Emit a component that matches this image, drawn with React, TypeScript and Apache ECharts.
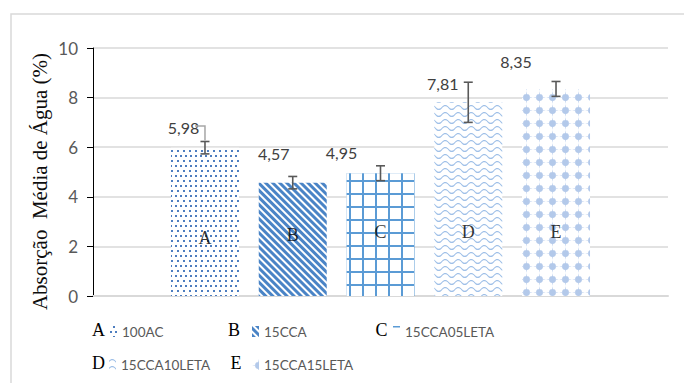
import React, { useEffect, useRef } from 'react';
import * as echarts from 'echarts';

// ---- data ----
const letters = ['A', 'B', 'C', 'D', 'E'];
const seriesNames = ['100AC', '15CCA', '15CCA05LETA', '15CCA10LETA', '15CCA15LETA'];
const means = [5.98, 4.57, 4.95, 7.81, 8.35];
const errors = [0.25, 0.25, 0.3, 0.81, 0.3];
const letterLevels = [2.35, 2.46, 2.6, 2.6, 2.6];
const yAxisTitle = 'Absorção  Média de Água (%)';
const yMin = 0;
const yMax = 10;
const yStep = 2;

// ---- styling ----
const SANS = 'Lato, "Open Sans", sans-serif';
const SERIF = '"Liberation Serif", "Times New Roman", serif';
const labelOffsets = [[-21.5, -6.7], [-19, -16], [-39, -8], [-25.5, -6], [-40, -14]];
const legendSpots = [
  { left: 110, top: 324.5, lx: 98.5, ly: 330 },
  { left: 252, top: 324.5, lx: 234, ly: 330 },
  { left: 393, top: 324.5, lx: 381.5, ly: 330 },
  { left: 109, top: 357.5, lx: 98.5, ly: 363 },
  { left: 252, top: 357.5, lx: 236, ly: 363 },
];

const wavePath =
  'path://M0,2.5 C2,0 4.5,0 6.5,2.5 C8.5,5 11,5 13,2.5 L13,3.8 C11,6.3 8.5,6.3 6.5,3.8 C4.5,1.3 2,1.3 0,3.8 Z';
const dotPath =
  'path://M2.8,6 A3.2,3.2 0 1 1 9.2,6 A3.2,3.2 0 1 1 2.8,6 Z M0,6 L6,5.2 L12,6 L6,6.8 Z M6,0 L6.8,6 L6,12 L5.2,6 Z';
const dashIcon = 'path://M0,0 H7 V1.6 H0 Z M3.5,11 H3.51 V11.01 H3.5 Z';

const barStyles: any[] = [
  {
    color: '#ffffff',
    decal: {
      symbol: 'rect', symbolSize: 1, color: '#4d7dbf',
      dashArrayX: [[1.5, 3], [0, 2.25, 1.5, 0.75]], dashArrayY: [1.5, 2.5],
    },
  },
  {
    color: '#ffffff',
    decal: {
      symbol: 'rect', symbolSize: 1, color: '#4a84c6',
      dashArrayX: [1, 0], dashArrayY: [2.2, 1.5], rotation: Math.PI / 4,
    },
  },
  {
    color: '#5b9bd5',
    decal: {
      symbol: 'rect', symbolSize: 1, color: '#ffffff',
      dashArrayX: [10.3, 2], dashArrayY: [10.3, 2],
    },
  },
  {
    color: '#ffffff',
    decal: {
      symbol: wavePath, symbolSize: 1, symbolKeepAspect: false, color: '#9fc0e8',
      dashArrayX: [12.5, 0], dashArrayY: [4.5, 1.8],
    },
  },
  {
    color: '#ffffff',
    decal: {
      symbol: dotPath, symbolSize: 1, symbolKeepAspect: true, color: '#b3c9ea',
      dashArrayX: [12.4, 0], dashArrayY: [12.3, 0],
    },
  },
];

const fmt = (v: number) => v.toFixed(2).replace('.', ',');

export default function App() {
  const ref = useRef<HTMLDivElement>(null);

  useEffect(() => {
    if (!ref.current) return;
    const chart = echarts.init(ref.current, null, { renderer: 'svg' });

    const barSeries = seriesNames.map((name, i) => ({
      name,
      type: 'bar',
      barWidth: 68,
      barGap: '-100%',
      data: [[i, means[i]]],
      itemStyle: barStyles[i],
      z: 2,
      label: {
        show: true,
        position: 'top',
        distance: 5,
        offset: labelOffsets[i],
        fontFamily: SANS,
        fontSize: 16,
        lineHeight: 16,
        color: '#404040',
        formatter: (p: any) => fmt(p.value[1]),
      },
    }));

    const errorSeries = {
      type: 'custom',
      z: 5,
      silent: true,
      data: means.map((m, i) => [i, m - errors[i], m + errors[i]]),
      renderItem: (params: any, api: any) => {
        const x = api.value(0);
        const top = api.coord([x, api.value(2)]);
        const bot = api.coord([x, api.value(1)]);
        const cx = top[0];
        const stroke = { stroke: '#595959', lineWidth: 1.6 };
        const children: any[] = [
          { type: 'line', shape: { x1: cx, y1: top[1], x2: cx, y2: bot[1] }, style: stroke },
          { type: 'line', shape: { x1: cx - 4.5, y1: top[1], x2: cx + 4.5, y2: top[1] }, style: stroke },
          { type: 'line', shape: { x1: cx - 4.5, y1: bot[1], x2: cx + 4.5, y2: bot[1] }, style: stroke },
        ];
        if (params.dataIndex === 0) {
          children.push({
            type: 'polyline',
            shape: { points: [[cx - 10, top[1] - 15.5], [cx, top[1] - 15.5], [cx, top[1] - 1]] },
            style: { stroke: '#a6a6a6', lineWidth: 1.5, fill: 'none' },
          });
        }
        return { type: 'group', children };
      },
    };

    const letterSeries = {
      type: 'scatter',
      z: 6,
      silent: true,
      symbolSize: 0.1,
      itemStyle: { color: 'transparent' },
      data: letters.map((l, i) => [i, letterLevels[i]]),
      label: {
        show: true,
        position: 'inside',
        fontFamily: SERIF,
        fontSize: 18,
        color: '#000000',
        formatter: (p: any) => letters[p.dataIndex],
      },
    };

    const legends = seriesNames.map((name, i) => {
      const isGrid = i === 2;
      return {
        data: [isGrid ? { name, icon: dashIcon } : name],
        left: legendSpots[i].left,
        top: legendSpots[i].top,
        padding: 0,
        itemWidth: 7,
        itemHeight: 11,
        icon: 'rect',
        selectedMode: false,
        itemStyle: isGrid ? { decal: 'none', color: '#5b9bd5' } : {},
        textStyle: { fontFamily: SANS, fontSize: 13.5, color: '#595959' },
      };
    });

    const graphics: any[] = [
      {
        type: 'rect',
        shape: { x: 11, y: 14, width: 720, height: 420 },
        style: { fill: 'none', stroke: '#d9d9d9', lineWidth: 1.5 },
        silent: true,
      },
      {
        type: 'text',
        x: 40,
        y: 181.5,
        rotation: Math.PI / 2,
        style: {
          text: yAxisTitle,
          fontFamily: SERIF,
          fontSize: 21,
          fill: '#0d0d0d',
          align: 'center',
          verticalAlign: 'middle',
        },
      },
      ...letters.map((l, i) => ({
        type: 'text',
        x: legendSpots[i].lx,
        y: legendSpots[i].ly,
        style: {
          text: l,
          fontFamily: SERIF,
          fontSize: 18,
          fill: '#000000',
          align: 'center',
          verticalAlign: 'middle',
        },
      })),
    ];

    chart.setOption({
      animation: false,
      backgroundColor: '#ffffff',
      grid: { left: 93, right: 16, top: 48, bottom: 87 },
      xAxis: {
        type: 'value',
        min: -1.276,
        max: 5.276,
        axisLabel: { show: false },
        axisTick: { show: false },
        splitLine: { show: false },
        axisLine: { show: true, onZero: false, lineStyle: { color: '#d9d9d9', width: 2 } },
      },
      yAxis: {
        type: 'value',
        min: yMin,
        max: yMax,
        interval: yStep,
        axisLine: { show: true, onZero: false, lineStyle: { color: '#000000', width: 1 } },
        axisTick: { show: true, length: 6, lineStyle: { color: '#000000' } },
        axisLabel: { margin: 15, fontFamily: SANS, fontSize: 17, color: '#595959' },
        splitLine: { show: true, lineStyle: { color: '#d9d9d9', width: 1.5 } },
      },
      legend: legends,
      graphic: graphics,
      series: [...barSeries, errorSeries, letterSeries],
    });

    return () => chart.dispose();
  }, []);

  return (
    <div
      ref={ref}
      style={{ position: 'absolute', left: 0, top: 0, width: 684, height: 383 }}
    />
  );
}
